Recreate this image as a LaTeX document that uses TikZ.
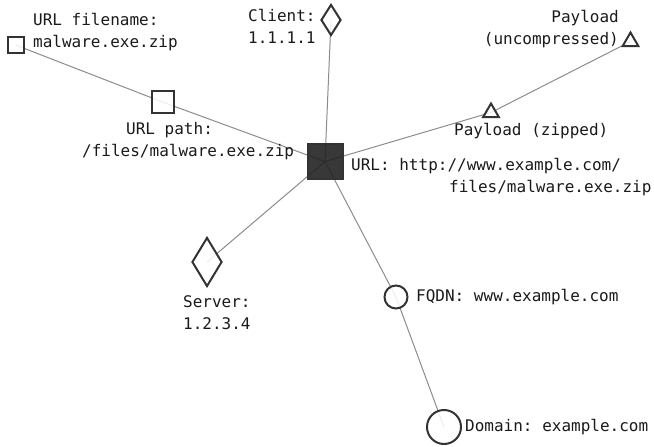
\documentclass[tikz,border=0pt]{standalone}
\usepackage{fontspec}
\setmonofont{DejaVu Sans Mono}
\usetikzlibrary{shapes.geometric}
\definecolor{stroke}{HTML}{333333}
\definecolor{darkfill}{HTML}{222222}
\definecolor{edgec}{HTML}{8C8C8C}
\definecolor{txt}{HTML}{1A1A1A}
\tikzset{
  ent/.style={draw=stroke, line width=2pt, fill=white, fill opacity=0.85, draw opacity=1, inner sep=0pt},
  sq/.style={ent, rectangle, minimum size=#1},
  dia/.style={ent, diamond},
  tri/.style={ent, regular polygon, regular polygon sides=3, minimum size=#1},
  circ/.style={ent, circle, minimum size=#1},
  lnk/.style={draw=edgec, line width=1pt},
  lbl/.style={inner sep=0pt, text=txt, font=\ttfamily\fontsize{16}{22}\selectfont}
}
\begin{document}
\begin{tikzpicture}[x=1pt,y=-1pt]
\useasboundingbox (0,0) rectangle (654,447);
% node centres
\coordinate (cUrl) at (325,161.5);
\coordinate (cPath) at (162.5,102);
\coordinate (cFile) at (15.5,45);
\coordinate (cClient) at (331,20);
\coordinate (cZip) at (491,112.5);
\coordinate (cUnc) at (630.5,41.5);
\coordinate (cServer) at (207,262);
\coordinate (cFqdn) at (396,297);
\coordinate (cDom) at (444,427);
% edges
\draw[lnk] (cUrl) -- (cPath) -- (cFile);
\draw[lnk] (cUrl) -- (cClient);
\draw[lnk] (cUrl) -- (cZip) -- (cUnc);
\draw[lnk] (cUrl) -- (cServer);
\draw[lnk] (cUrl) -- (cFqdn) -- (cDom);
% nodes
\node[sq=35pt, fill=darkfill, fill opacity=0.9] (url) at (cUrl) {};
\node[sq=22pt] (path) at (cPath) {};
\node[sq=16pt] (file) at (cFile) {};
\node[dia, minimum width=20pt, minimum height=31pt] (client) at (cClient) {};
\node[tri=18pt] (zip) at (cZip) {};
\node[tri=18pt] (unc) at (cUnc) {};
\node[dia, minimum width=30pt, minimum height=49pt] (server) at (cServer) {};
\node[circ=23pt] (fqdn) at (cFqdn) {};
\node[circ=34pt] (dom) at (cDom) {};
% labels
\node[lbl, anchor=west, align=left] (lFile) at (33,32) {URL filename:\\malware.exe.zip};
\node[lbl, anchor=west, align=left] (lClient) at (248,26) {Client:\\1.1.1.1};
\node[lbl, anchor=east, align=right] (lUnc) at (619,29) {Payload\\(uncompressed)};
\node[lbl, anchor=west] (lZip) at (454,131) {Payload (zipped)};
\node[lbl, anchor=west, align=left] (lPath) at (82,141) {\hspace*{44pt}URL path:\\/files/malware.exe.zip};
\node[lbl, anchor=west, align=left] (lUrl) at (351,177) {URL: http://www.example.com/\\\hspace*{98pt}files/malware.exe.zip};
\node[lbl, anchor=west, align=left] (lServer) at (183,313) {Server:\\1.2.3.4};
\node[lbl, anchor=west] (lFqdn) at (416,297) {FQDN: www.example.com};
\node[lbl, anchor=west] (lDom) at (465,427) {Domain: example.com};
\end{tikzpicture}
\end{document}
